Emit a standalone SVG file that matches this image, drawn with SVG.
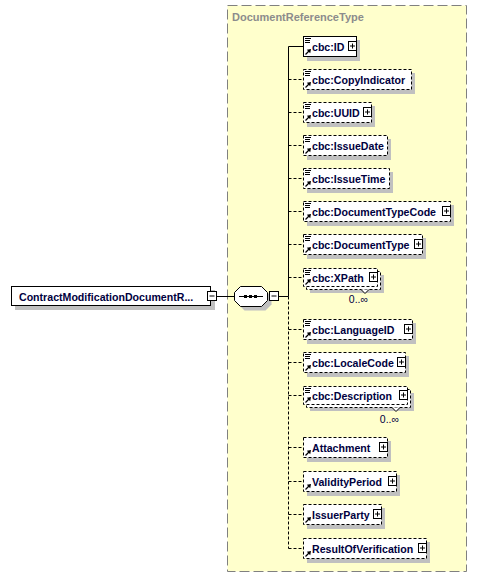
<svg xmlns="http://www.w3.org/2000/svg" xmlns:xlink="http://www.w3.org/1999/xlink" width="478" height="578" viewBox="0 0 478 578">
<style>
.bg{fill:#ffffcc;stroke:#808080;stroke-width:1;stroke-dasharray:10,4}
.ttl{font-family:"Liberation Sans",Arial,sans-serif;font-size:11px;font-weight:bold;fill:#8c8c8c}
.sh{fill:#c0c0c0}
.bs{fill:#fff;stroke:#000;stroke-width:1}
.bd{fill:#fff;stroke:#000;stroke-width:1;stroke-dasharray:3,2}
.t{font-family:"Liberation Sans",Arial,sans-serif;font-size:10.6px;font-weight:bold;fill:#000040}
.m{font-family:"Liberation Sans",Arial,sans-serif;font-size:10.5px;fill:#000040}
.ln{fill:none;stroke:#000;stroke-width:1}
.ld{fill:none;stroke:#000;stroke-width:1;stroke-dasharray:3,2}
</style>
<defs>
<g id="doc"><path d="M2,2.5h6M2,4.5h5M2,6.5h5" stroke="#000" stroke-width="1"/></g>
<g id="arr"><path d="M2.5,18.5L6,15" stroke="#000" stroke-width="1.3"/><path d="M8,13L3.8,13.8L7.2,17.2Z" fill="#000"/></g>
<g id="plus"><rect x="0" y="0" width="8" height="9" fill="#fff" stroke="#000"/><path d="M1.5,4.5h5M4,2v5" stroke="#000"/></g>
<g id="minus"><rect x="0" y="0" width="9" height="9" fill="#fff" stroke="#000"/><path d="M2,4.5h5" stroke="#000"/></g>
</defs>

<rect class="bg" x="227.5" y="5.5" width="239" height="566"/>
<text class="ttl" x="232" y="21">DocumentReferenceType</text>

<g id="connectors">
<path class="ln" d="M216,296.5H234.5M278.5,296.5H288.5M288.5,46.5V296.5M288.5,46.5H303.5"/>
<path class="ld" d="M288.5,296.5V548.5M288.5,79.5H303M288.5,112.5H303M288.5,145.5H303M288.5,178.5H303M288.5,211.5H303M288.5,244.5H303M288.5,277.5H303M288.5,329.5H303M288.5,362.5H303M288.5,395.5H303M288.5,447.5H303M288.5,481.5H303M288.5,514.5H303M288.5,548.5H303"/>
</g>

<g id="root">
<rect class="sh" x="15" y="290" width="200" height="20"/>
<rect class="bs" x="11.5" y="286.5" width="199" height="19"/>
<text class="t" x="19" y="300.5">ContractModificationDocumentR...</text>
<use xlink:href="#minus" href="#minus" transform="translate(207.5,291.5)"/>
</g>

<g id="sequence">
<polygon class="sh" points="244.5,290.5 265.5,290.5 271.5,296.5 271.5,304.5 265.5,310.5 244.5,310.5 238.5,304.5 238.5,296.5"/>
<polygon class="bs" points="240.5,286.5 261.5,286.5 267.5,292.5 267.5,300.5 261.5,306.5 240.5,306.5 234.5,300.5 234.5,292.5"/>
<path class="ln" d="M239,296.5H263"/>
<rect x="244" y="295" width="3" height="3" fill="#000"/>
<rect x="249" y="295" width="3" height="3" fill="#000"/>
<rect x="254" y="295" width="3" height="3" fill="#000"/>
<use xlink:href="#minus" href="#minus" transform="translate(269.5,291.5)"/>
</g>

<g id="n-id">
<rect class="sh" x="307" y="40" width="53" height="21"/>
<rect class="bs" x="303.5" y="36.5" width="53" height="20"/>
<use xlink:href="#doc" href="#doc" transform="translate(303,36)"/>
<use xlink:href="#arr" href="#arr" transform="translate(303,36)"/>
<text class="t" x="312" y="51">cbc:ID</text>
<use xlink:href="#plus" href="#plus" transform="translate(348.5,41.5)"/>
</g>

<g id="n-copyindicator">
<rect class="sh" x="307" y="73" width="108" height="21"/>
<rect class="bd" x="303.5" y="69.5" width="108" height="20"/>
<use xlink:href="#doc" href="#doc" transform="translate(303,69)"/>
<use xlink:href="#arr" href="#arr" transform="translate(303,69)"/>
<text class="t" x="312" y="84">cbc:CopyIndicator</text>
</g>

<g id="n-uuid">
<rect class="sh" x="307" y="106" width="68" height="21"/>
<rect class="bd" x="303.5" y="102.5" width="68" height="20"/>
<use xlink:href="#doc" href="#doc" transform="translate(303,102)"/>
<use xlink:href="#arr" href="#arr" transform="translate(303,102)"/>
<text class="t" x="312" y="117">cbc:UUID</text>
<use xlink:href="#plus" href="#plus" transform="translate(363.5,107.5)"/>
</g>

<g id="n-issuedate">
<rect class="sh" x="307" y="139" width="84" height="21"/>
<rect class="bd" x="303.5" y="135.5" width="84" height="20"/>
<use xlink:href="#doc" href="#doc" transform="translate(303,135)"/>
<use xlink:href="#arr" href="#arr" transform="translate(303,135)"/>
<text class="t" x="312" y="150">cbc:IssueDate</text>
</g>

<g id="n-issuetime">
<rect class="sh" x="307" y="172" width="86" height="21"/>
<rect class="bd" x="303.5" y="168.5" width="86" height="20"/>
<use xlink:href="#doc" href="#doc" transform="translate(303,168)"/>
<use xlink:href="#arr" href="#arr" transform="translate(303,168)"/>
<text class="t" x="312" y="183">cbc:IssueTime</text>
</g>

<g id="n-documenttypecode">
<rect class="sh" x="307" y="205" width="147" height="21"/>
<rect class="bd" x="303.5" y="201.5" width="147" height="20"/>
<use xlink:href="#doc" href="#doc" transform="translate(303,201)"/>
<use xlink:href="#arr" href="#arr" transform="translate(303,201)"/>
<text class="t" x="312" y="216">cbc:DocumentTypeCode</text>
<use xlink:href="#plus" href="#plus" transform="translate(442.5,206.5)"/>
</g>

<g id="n-documenttype">
<rect class="sh" x="307" y="238" width="119" height="21"/>
<rect class="bd" x="303.5" y="234.5" width="119" height="20"/>
<use xlink:href="#doc" href="#doc" transform="translate(303,234)"/>
<use xlink:href="#arr" href="#arr" transform="translate(303,234)"/>
<text class="t" x="312" y="249">cbc:DocumentType</text>
<use xlink:href="#plus" href="#plus" transform="translate(414.5,239.5)"/>
</g>

<g id="n-xpath">
<rect class="sh" x="310" y="275" width="74" height="18"/>
<rect class="bd" x="306.5" y="271.5" width="74" height="18"/>
<rect class="bd" x="303.5" y="268.5" width="74" height="18"/>
<use xlink:href="#doc" href="#doc" transform="translate(303,268)"/>
<use xlink:href="#arr" href="#arr" transform="translate(303,266)"/>
<text class="t" x="312" y="282">cbc:XPath</text>
<use xlink:href="#plus" href="#plus" transform="translate(369.5,272.5)"/>
<path d="M361,289.5L365,293.5L369,289.5" fill="#fff" stroke="#000"/>
<text class="m" x="368" y="303" text-anchor="end">0..∞</text>
</g>

<g id="n-languageid">
<rect class="sh" x="307" y="323" width="109" height="21"/>
<rect class="bd" x="303.5" y="319.5" width="109" height="20"/>
<use xlink:href="#doc" href="#doc" transform="translate(303,319)"/>
<use xlink:href="#arr" href="#arr" transform="translate(303,319)"/>
<text class="t" x="312" y="334">cbc:LanguageID</text>
<use xlink:href="#plus" href="#plus" transform="translate(404.5,324.5)"/>
</g>

<g id="n-localecode">
<rect class="sh" x="307" y="356" width="102" height="21"/>
<rect class="bd" x="303.5" y="352.5" width="102" height="20"/>
<use xlink:href="#doc" href="#doc" transform="translate(303,352)"/>
<use xlink:href="#arr" href="#arr" transform="translate(303,352)"/>
<text class="t" x="312" y="367">cbc:LocaleCode</text>
<use xlink:href="#plus" href="#plus" transform="translate(397.5,357.5)"/>
</g>

<g id="n-description">
<rect class="sh" x="310" y="393" width="104" height="18"/>
<rect class="bd" x="306.5" y="389.5" width="104" height="18"/>
<rect class="bd" x="303.5" y="386.5" width="104" height="18"/>
<use xlink:href="#doc" href="#doc" transform="translate(303,386)"/>
<use xlink:href="#arr" href="#arr" transform="translate(303,384)"/>
<text class="t" x="312" y="400">cbc:Description</text>
<use xlink:href="#plus" href="#plus" transform="translate(399.5,390.5)"/>
<path d="M392,407.5L396,411.5L400,407.5" fill="#fff" stroke="#000"/>
<text class="m" x="399" y="423" text-anchor="end">0..∞</text>
</g>

<g id="n-attachment">
<rect class="sh" x="307" y="441" width="84" height="21"/>
<rect class="bd" x="303.5" y="437.5" width="84" height="20"/>
<use xlink:href="#arr" href="#arr" transform="translate(303,437)"/>
<text class="t" x="312" y="452">Attachment</text>
<use xlink:href="#plus" href="#plus" transform="translate(379.5,442.5)"/>
</g>

<g id="n-validityperiod">
<rect class="sh" x="307" y="475" width="93" height="21"/>
<rect class="bd" x="303.5" y="471.5" width="93" height="20"/>
<use xlink:href="#arr" href="#arr" transform="translate(303,471)"/>
<text class="t" x="312" y="486">ValidityPeriod</text>
<use xlink:href="#plus" href="#plus" transform="translate(388.5,476.5)"/>
</g>

<g id="n-issuerparty">
<rect class="sh" x="307" y="508" width="78" height="21"/>
<rect class="bd" x="303.5" y="504.5" width="78" height="20"/>
<use xlink:href="#arr" href="#arr" transform="translate(303,504)"/>
<text class="t" x="312" y="519">IssuerParty</text>
<use xlink:href="#plus" href="#plus" transform="translate(373.5,509.5)"/>
</g>

<g id="n-resultofverification">
<rect class="sh" x="307" y="542" width="123" height="21"/>
<rect class="bd" x="303.5" y="538.5" width="123" height="20"/>
<use xlink:href="#arr" href="#arr" transform="translate(303,538)"/>
<text class="t" x="312" y="553">ResultOfVerification</text>
<use xlink:href="#plus" href="#plus" transform="translate(418.5,543.5)"/>
</g>
</svg>
